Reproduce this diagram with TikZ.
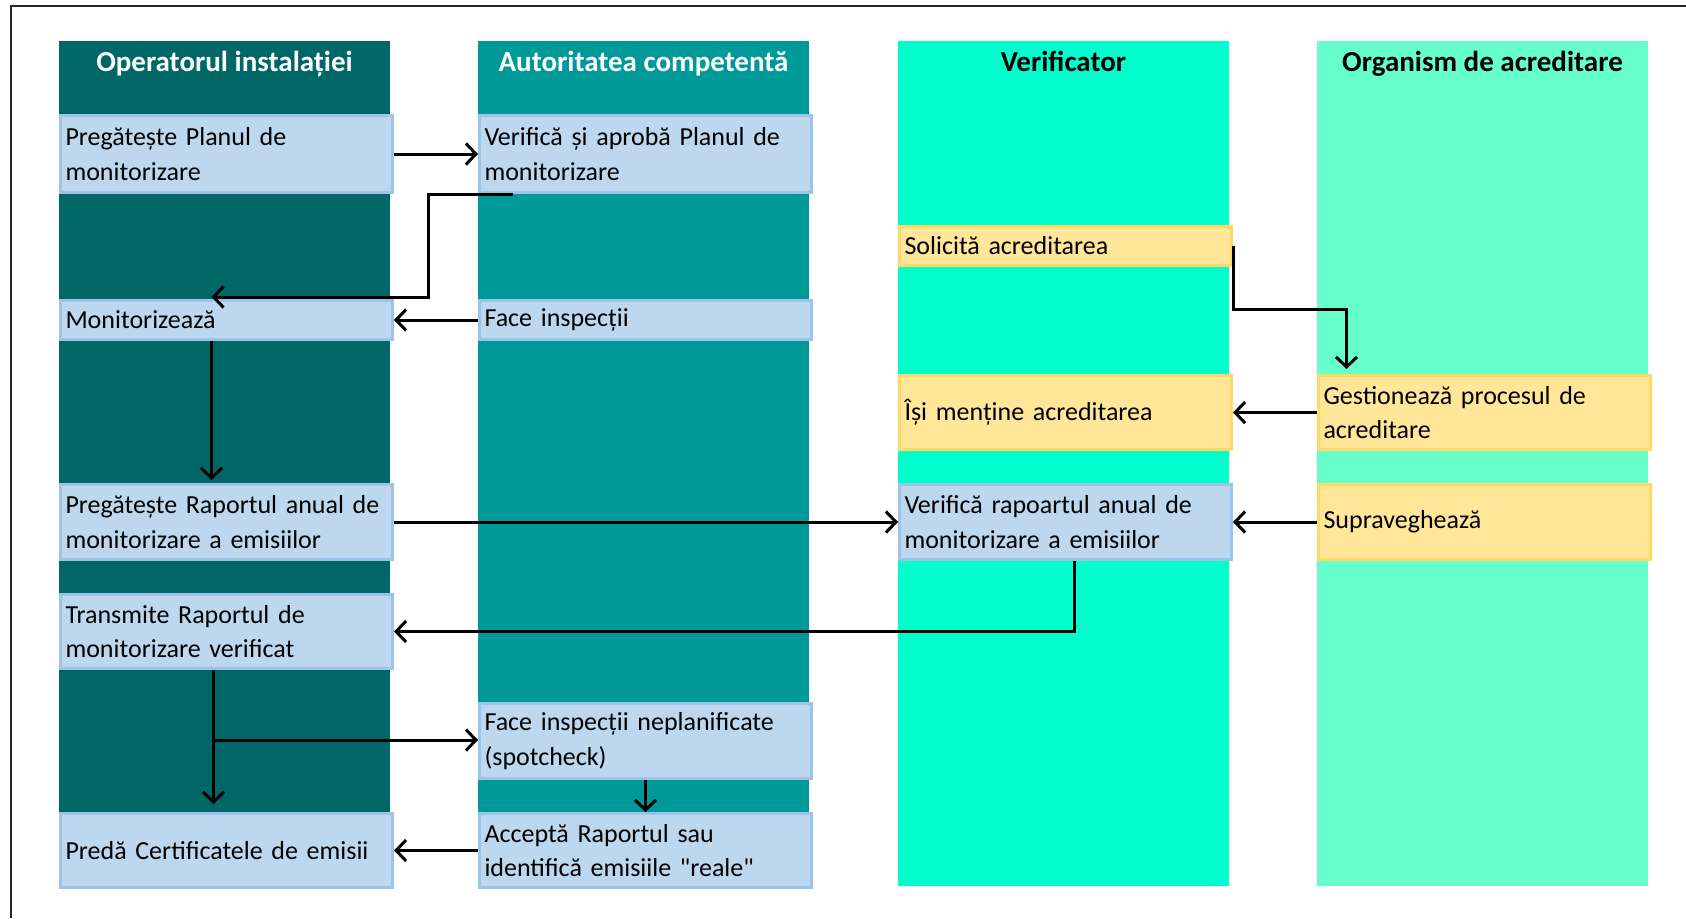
\documentclass[tikz,border=0pt]{standalone}
\usepackage{fontspec}
\setmainfont{Carlito}[Ligatures=TeXOff]
\usetikzlibrary{arrows.meta,calc}
\definecolor{laneA}{RGB}{0,102,102}
\definecolor{laneB}{RGB}{0,153,153}
\definecolor{laneC}{RGB}{0,255,204}
\definecolor{laneD}{RGB}{102,255,204}
\definecolor{bfill}{RGB}{189,215,238}
\definecolor{bline}{RGB}{157,195,230}
\definecolor{yfill}{RGB}{255,230,153}
\definecolor{yline}{RGB}{255,217,102}
\begin{document}
\begin{tikzpicture}[x=1pt,y=-1pt,
  lane/.style={fill=#1, draw=none, anchor=north west, minimum width=331pt, minimum height=845pt, inner sep=0pt},
  head/.style={font=\fontsize{29}{34}\selectfont\bfseries, text=#1, anchor=base},
  bluebox/.style={draw=bline, fill=bfill, line width=3pt, anchor=north west, inner xsep=5pt, inner ysep=0pt,
    text width=322pt, align=left, minimum height=#1, font=\fontsize{26}{34.5}\selectfont},
  yelbox/.style={bluebox=#1, draw=yline, fill=yfill},
  arr/.style={line width=3pt, -{Straight Barb[length=10pt,width=21pt]}}
]
\useasboundingbox (0,0) rectangle (1686,918);
\draw[line width=2pt, black!85] (11,918) -- (11,6) -- (1686,6);
% lanes
\node[lane=laneA] (L1) at (59,41) {};
\node[lane=laneB] (L2) at (478,41) {};
\node[lane=laneC] (L3) at (898,41) {};
\node[lane=laneD] (L4) at (1317,41) {};
\node[head=white] (H1) at (224.5,71) {Operatorul instalației};
\node[head=white] (H2) at (643.5,71) {Autoritatea competentă};
\node[head=black] (H3) at (1063.5,71) {Verificator};
\node[head=black] (H4) at (1482.5,71) {Organism de acreditare};
% boxes
\node[bluebox=77pt] (b1) at (59,114) {Pregătește Planul de\\monitorizare};
\node[bluebox=77pt] (a1) at (478,114) {Verifică și aprobă Planul de\\monitorizare};
\node[bluebox=39pt] (m1) at (59,299) {Monitorizează};
\node[bluebox=39pt] (a2) at (478,299) {Face inspecții};
\node[bluebox=75pt] (b2) at (59,483) {Pregătește Raportul anual de\\monitorizare a emisiilor};
\node[bluebox=75pt] (v2) at (898,483) {Verifică rapoartul anual de\\monitorizare a emisiilor};
\node[yelbox=75pt] (s2) at (1317,483) {Supraveghează};
\node[bluebox=74pt] (b3) at (59,593) {Transmite Raportul de\\monitorizare verificat};
\node[bluebox=75pt] (a3) at (478,702) {Face inspecții neplanificate\\(spotcheck)};
\node[bluebox=74pt] (b4) at (59,812) {Predă Certificatele de emisii};
\node[bluebox=74pt] (a4) at (478,812) {Acceptă Raportul sau\\identifică emisiile "reale"};
\node[yelbox=39pt] (sol) at (898,225) {Solicită acreditarea};
\node[yelbox=74pt] (im) at (898,374) {Își menține acreditarea};
\node[yelbox=74pt] (g) at (1317,374) {Gestionează procesul de\\acreditare};
% connectors
\draw[arr] (b1.east) -- (a1.west);
\draw[arr] ($(a1.south west)+(35,0)$) -- ($(a1.south west)+(-50,0)$) |- ($(m1.north)+(-15,-2)$);
\draw[arr] (a2.west) -- (m1.east);
\draw[arr] ($(m1.south)+(-15,0)$) -- ($(b2.north)+(-15,-3)$);
\draw[arr] (b2.east) -- (v2.west);
\draw[arr] (s2.west) -- (v2.east);
\draw[arr] ($(v2.south)+(9,0)$) |- (b3.east);
\draw[arr] ($(b3.south)+(-13,0)$) -- ($(b4.north)+(-13,-8)$);
\coordinate (br) at ($(b3.south)+(-13,70)$);
\draw[arr] (br) -- (br -| a3.west);
\draw[arr] (a3.south) -- (a4.north);
\draw[arr] (a4.west) -- (b4.east);
\draw[arr] (sol.east) -- ++(0,63) -| ($(g.north)+(-138,-5)$);
\draw[arr] (g.west) -- (im.east);
\end{tikzpicture}
\end{document}
